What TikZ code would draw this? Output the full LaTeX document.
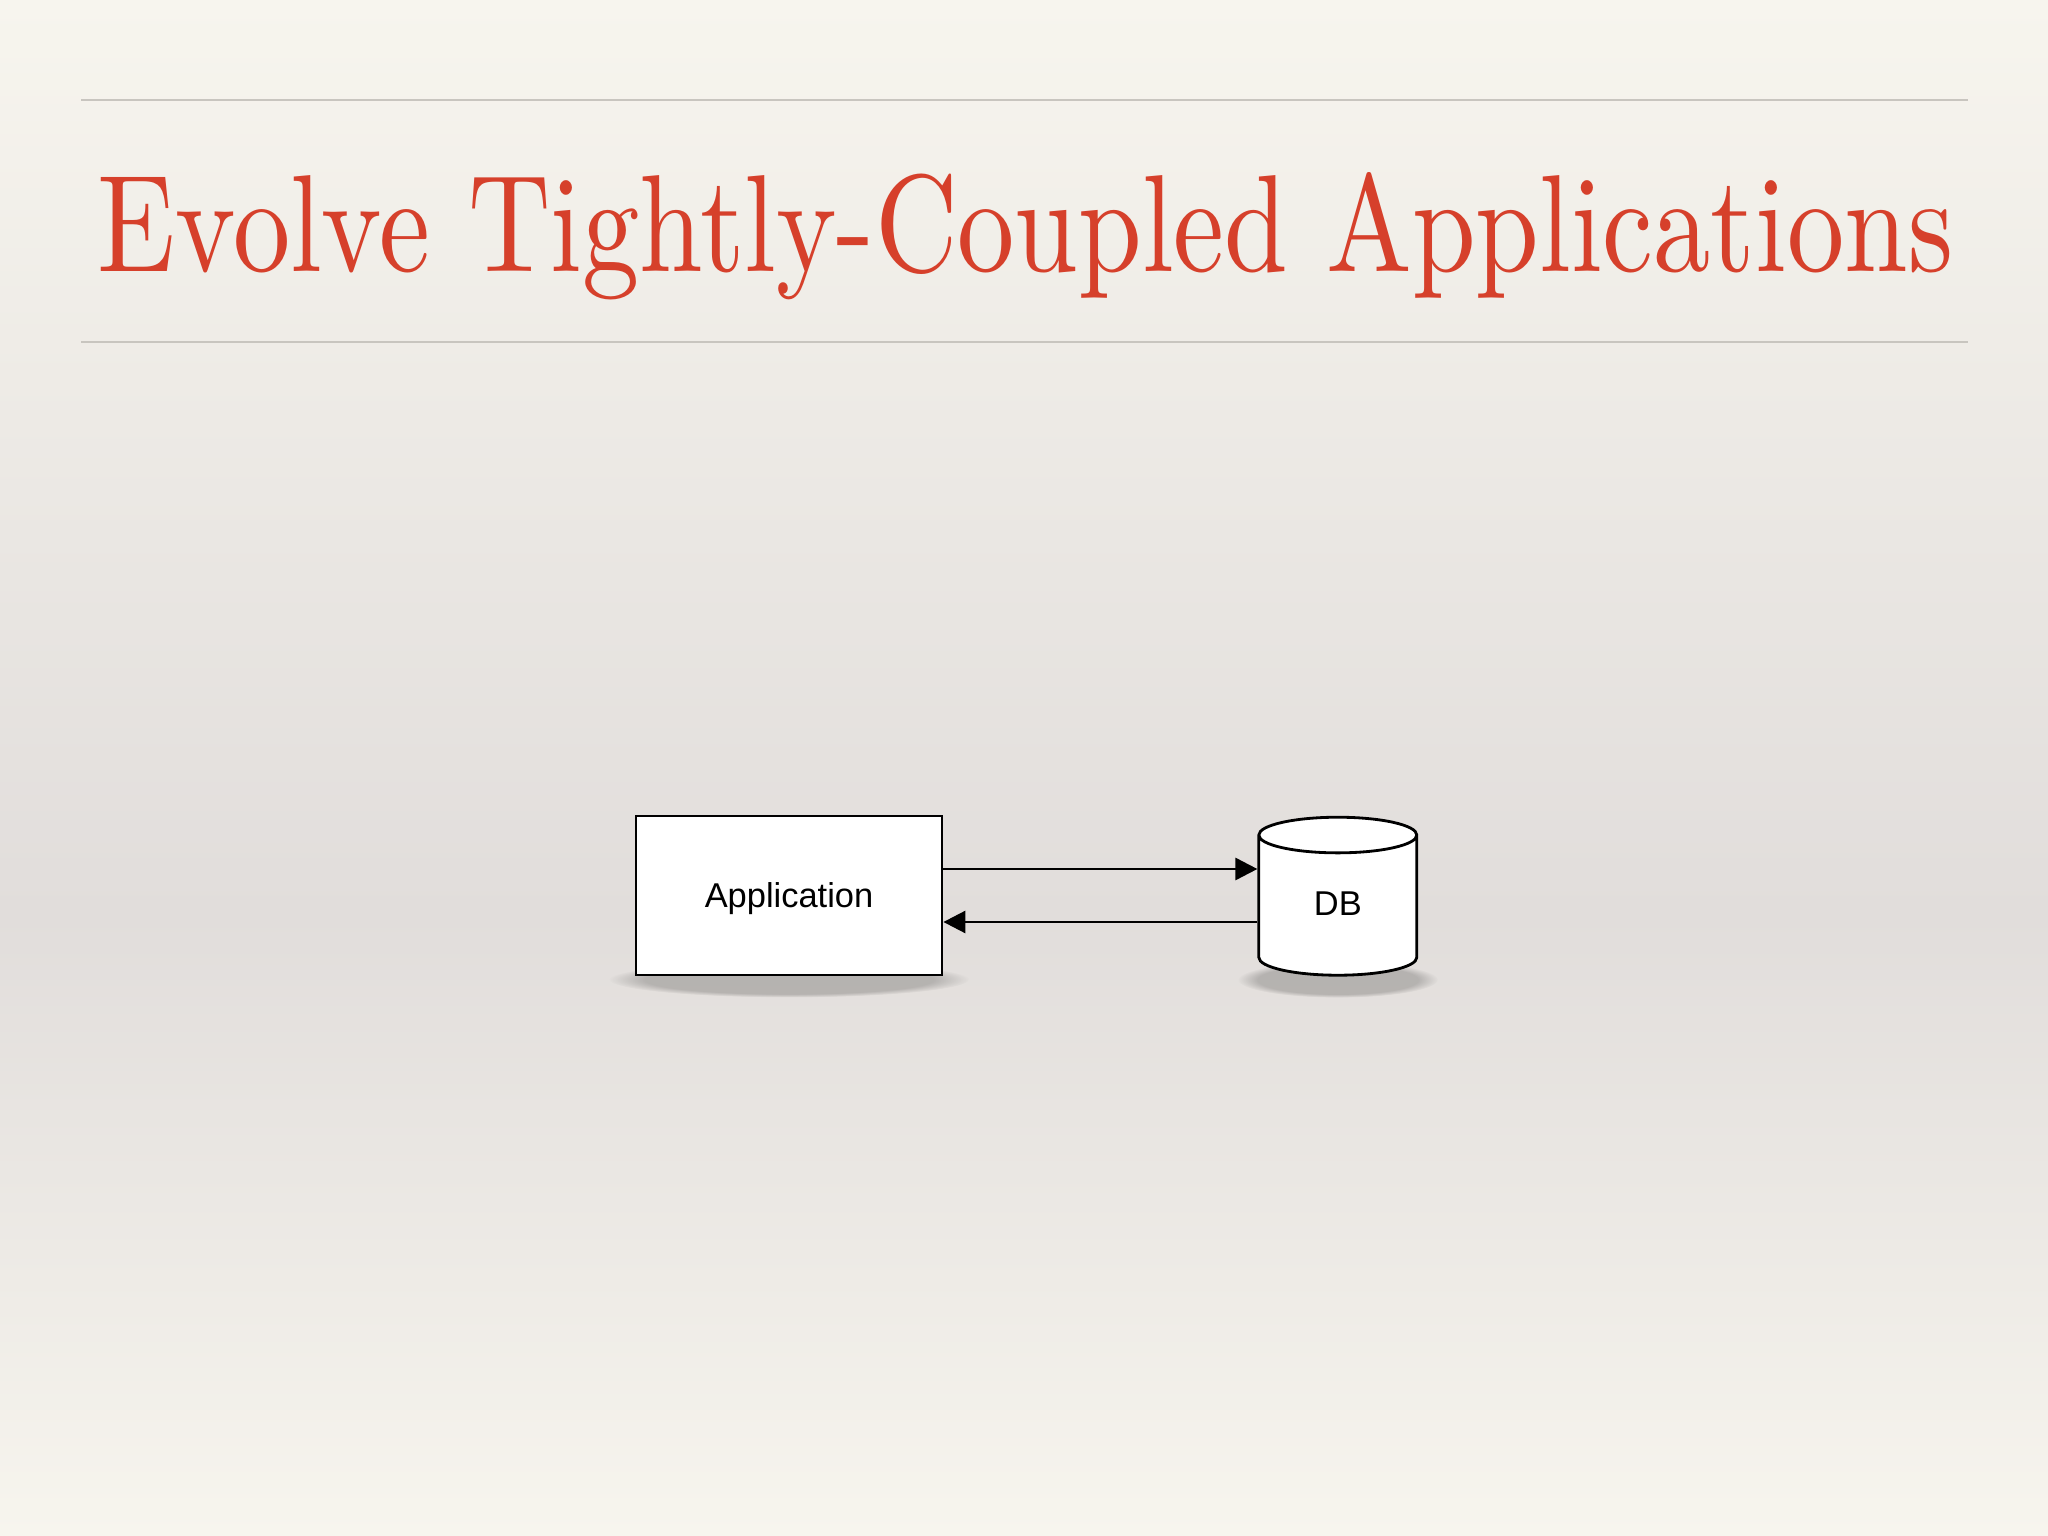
\documentclass[tikz,border=0pt]{standalone}
\usepackage{graphicx}
\usepackage{fontspec}
\newfontfamily\appfont{Liberation Sans}
\usetikzlibrary{arrows.meta,positioning,shapes.geometric,fadings}
\definecolor{titlered}{RGB}{214,64,43}
\definecolor{rulegray}{RGB}{200,197,191}
\definecolor{bgcream}{RGB}{247,245,238}
\definecolor{bggray}{RGB}{225,221,219}
\pgfdeclarelayer{backdrop}
\pgfsetlayers{backdrop,main}
\tikzset{%
  >={Triangle[width=2.2mm,length=2.2mm]},
  % Specifications for style of nodes:
      base/.style = {draw=black, fill=white, line width=0.8pt,
                     font=\appfont\fontsize{9.8}{12}\selectfont},
    appbox/.style = {base, rectangle, text depth=0pt,
                     minimum width=3.06cm, minimum height=1.59cm},
     dbcyl/.style = {base, cylinder, shape border rotate=90, aspect=0.5,
                     text depth=1.3mm, minimum width=1.58cm, minimum height=1.58cm},
  titletext/.style = {text=titlered, inner sep=0pt},
  rule/.style = {rulegray, line width=0.6pt},
  softshadow/.style = {black, opacity=0.2,
                       path fading=circle with fuzzy edge 20 percent}
}

\begin{document}
\begin{tikzpicture}
  \node (title) [titletext, anchor=base] at (10.255,-2.72)
    {\resizebox{18.55cm}{0.99cm}{Evolve Tightly-Coupled Applications}};

  \node (app) [appbox] at (7.89,-8.955) {Application};
  \node (db)  [dbcyl, right=3.14cm of app, yshift=-1.5mm] {DB};

    \draw[->, line width=0.8pt] ([yshift=2.65mm]app.east) -- ([yshift=2.65mm]app.east -| db.west);
    \draw[->, line width=0.8pt] ([yshift=-2.65mm]app.east -| db.west) -- ([yshift=-2.65mm]app.east);

  \begin{pgfonlayer}{backdrop}
    % background
    \shade[top color=bgcream, bottom color=bggray] (0,0) rectangle (20.48,-9.15);
    \shade[top color=bggray, bottom color=bgcream] (0,-9.15) rectangle (20.48,-15.36);
    \draw[rule] (0.81,-1.00) -- (19.68,-1.00);
    \draw[rule] (0.81,-3.42) -- (19.68,-3.42);
    % shadows under the nodes
    \fill[softshadow] ([yshift=-0.3mm]app.south) ellipse (1.8cm and 0.18cm);
    \fill[softshadow] ([yshift=-0.3mm]db.south) ellipse (1.0cm and 0.18cm);
  \end{pgfonlayer}
\end{tikzpicture}
\end{document}
